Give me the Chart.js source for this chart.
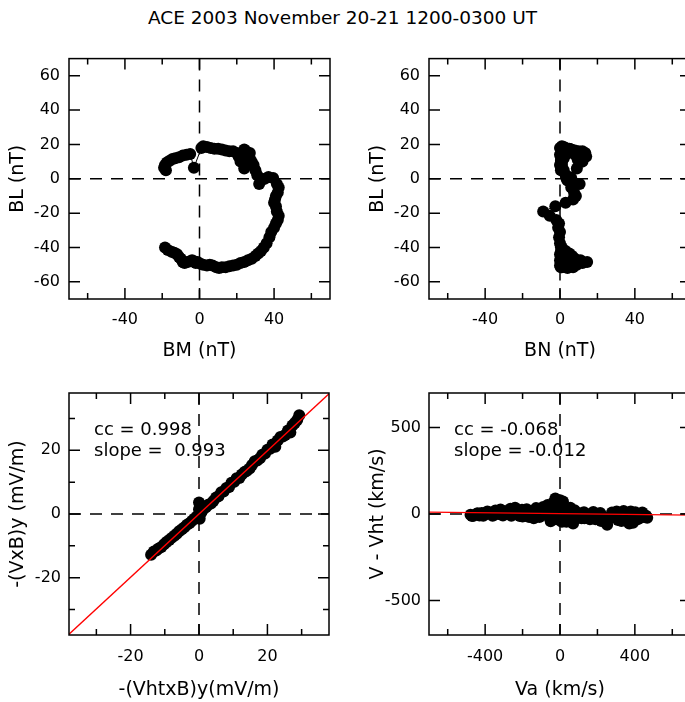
<!DOCTYPE html>
<html>
<head>
<meta charset="utf-8">
<script src="https://cdn.jsdelivr.net/npm/chart.js@4/dist/chart.umd.min.js"></script>
<style>
  html, body { margin: 0; padding: 0; background: #fff; overflow: hidden; width: 685px; height: 702px; }
  #title { position: absolute; left: 0; top: 7px; width: 685px; text-align: center;
           font: 18.5px "DejaVu Sans", sans-serif; color: #000; line-height: 22px; }
  canvas { position: absolute; }
</style>
</head>
<body>
<div id="title">ACE 2003 November 20-21 1200-0300 UT</div>
<canvas id="pBM" width="345" height="330" style="left:0;top:40px"></canvas>
<canvas id="pBN" width="345" height="330" style="left:355px;top:40px"></canvas>
<canvas id="pE"  width="345" height="327" style="left:0;top:375px"></canvas>
<canvas id="pV"  width="345" height="327" style="left:355px;top:375px"></canvas>
<script>
(function () {
  "use strict";

  /* ── Data: magnetic field in boundary coordinates (nT), time ordered ── */
  const BL = [-40, -41.5, -42.5, -43, -44, -45.5, -46.5, -48.5, -49, -48.5,
              -48, -47.5, -48, -49, -48.5, -49.5, -50, -50.5, -50, -50.5,
              -51.5, -52, -51.5, -51.5, -51, -50.5, -50, -49, -48.5, -47.5,
              -46.5, -45, -43.5, -42, -40, -37.5, -34, -31, -28.5, -26,
              -24, -21.5, -19, -16, -14, -12, -10, -8, -5, -3,
              0.5, 1, 0, -1, -3, 2, 5, 8, 10, 12,
              15, 14, 16, 17, 14, 11, 6, 10, 13, 15,
              16, 16, 16.5, 17, 17.5, 17.5, 18, 18.5, 19, 18,
              6.5, 14.5, 14, 13.5, 12.5, 12, 11.5, 10.5, 9.5, 8,
              6.5, 5];
  const BM = [-18.5, -17, -15, -13.5, -12, -11, -10, -9, -8, -6.5,
              -5, -4, -3, -2, -1, 0.5, 2, 4, 5.5, 7,
              9, 10.5, 12, 14, 16, 18, 20, 22, 24, 26,
              28, 30, 31.5, 33, 34.5, 36, 37.5, 38.5, 40, 41,
              42, 42.5, 41.5, 41, 40, 40.5, 41, 42, 42.5, 41.5,
              39.5, 37, 35, 33, 32, 31, 30, 29, 28, 27,
              27, 26, 25, 24, 23, 24, 24, 22, 21, 20,
              18, 16, 14, 12, 10, 8, 6, 4, 2, 1,
              -3, -5, -7, -9, -11, -13, -14.5, -16, -17.5, -18.5,
              -19, -18];
  const BN = [0.5, 1, 0.5, 1.5, 0, 1, 0.5, 1.5, 2, 3,
              1, 0, 1.5, 2.5, 4, 3, 1, 0, 2, 5,
              7, 4, 1, 0.5, 3, 6, 9, 12, 14.5, 11,
              8, 6.5, 5, 3, 1, 0, -0.5, 0, -1, -0.5,
              -2, -5.5, -9, -2.5, 3, 7, 8.5, 7.5, 6, 10.5,
              6, 5, 3.5, 4, 6.5, 3, 0.5, 1, 0.5, 1.5,
              2, 3, 5, 6, 8, 9.5, 9, 12, 14, 13.5,
              12, 10, 8, 6, 5, 4, 3, 2, 1, 0,
              0.5, 1, 0, 1.5, 0.5, 2, 1, 0.5, 1, 0,
              1, 2];

  /* ── Data: Walen / deHoffmann-Teller test ── */
  const EHT = [-14, -13.2, -12.5, -11.8, -11, -10.2, -9.5, -8.7, -8, -7.2,
               -6.5, -5.8, -5, -4.3, -3.5, -2.8, -2, -1.3, -0.6, 0,
               0, 0.2, 0.6, 1.2, 2, 2.7, 3.5, 4.2, 5, 5.7,
               6.5, 7.2, 8, 8.8, 9.5, 10.3, 11, 11.8, 12.5, 13.3,
               14, 14.8, 15.5, 16.3, 17, 17.8, 18.5, 19.3, 20, 20.8,
               21.5, 22.3, 23, 23.8, 24.5, 25.2, 26, 26.7, 27.3, 28,
               28.7, 29.3];
  const EC  = [-12.8, -11.8, -11.5, -10.8, -10.4, -9.5, -8.8, -8.2, -7.5, -6.8,
               -6.2, -5.4, -4.8, -4.2, -3.4, -2.9, -2.1, -1.4, -0.8, 1.5,
               3.6, -1.5, 0.3, 1.4, 2.1, 2.9, 3.3, 4.1, 5.2, 5.6,
               6.8, 7.1, 8.2, 8.5, 9.8, 10.1, 11.2, 11.3, 12.4, 13.2,
               13.6, 14.3, 15.4, 16.6, 16.8, 17.5, 18.6, 19.0, 20.2, 20.5,
               21.8, 21.1, 23.1, 24.2, 24.3, 24.8, 26.2, 25.6, 27.8, 28.6,
               29.5, 31.0];
  const VA  = [-478, -462, -445, -430, -418, -402, -388, -372, -360, -345,
               -333, -318, -305, -292, -280, -265, -252, -240, -228, -215,
               -203, -190, -178, -165, -152, -140, -128, -115, -103, -90,
               -78, -66, -55, -44, -34, -25, -16, -8, 0, 8,
               16, 25, 34, 44, 55, 66, 78, 90, 103, 115,
               128, 140, 152, 165, 178, 190, 203, 215, 228, 240,
               252, 265, 278, 290, 303, 316, 328, 340, 352, 365,
               378, 390, 402, 415, 428, 440, 452, 466,
               -470, -440, -410, -380, -350, -320, -290, -260, -230, -200,
               -170, -140, -110, -80, -50, -20, 10, 40, 70, 100,
               130, 160, 190, 220, 250, 280, 310, 340, 370, 400,
               430, 460];
  const VR  = [-4, -10, 2, -8, 6, -3, 14, 4, -10, 20,
               10, 26, -8, 16, 6, 30, 18, 36, 8, -12,
               24, 4, 28, -18, 16, 2, 34, -10, 20, 40,
               10, 52, -20, 28, 66, 90, 42, 15, 80, -40,
               72, 28, -45, -8, 36, 12, 22, -15, 4, -25,
               10, -10, -20, 0, 12, -30, -5, 6, -15, -35,
               -62, -25, 8, -12, 15, -8, -40, 18, -20, 5,
               14, -50, 10, -30, -8, 8, -18, -22,
               -12, 4, -10, 8, -5, -2, 8, -10, 2, -15,
               -10, -25, -18, -5, -42, -30, -45, 25, -55, -20,
               -25, -30, -10, -40, -38, -15, -35, -10, -55, -28,
               -22, -10];

  /* ── Fit results ── */
  const fitE = { cc: '0.998', slope: 0.993, icpt: 0.0, slopeTxt: ' 0.993' };
  const fitV = { cc: '-0.068', slope: -0.012, icpt: 2.0, slopeTxt: '-0.012' };

  /* ── Axis ticks ── */
  const bTicks = [-60, -40, -20, 0, 20, 40, 60];
  const bLabelsX = [-40, 0, 40];
  const eTicks = [-30, -20, -10, 0, 10, 20, 30];
  const eLabels = [-20, 0, 20];
  const vaTicks = [-600, -400, -200, 0, 200, 400, 600];
  const vaLabels = [-400, 0, 400];
  const vTicks = [-500, 0, 500];

  const FONT = '"DejaVu Sans", sans-serif';

  function pts(xs, ys) { return xs.map((v, i) => ({ x: v, y: ys[i] })); }

  /* ── Frame plugin: box, inward ticks, dashed zero lines, notes ── */
  const frame = {
    id: 'frame',
    beforeDatasetsDraw(chart) {
      const { ctx, chartArea: a, scales: { x, y } } = chart;
      ctx.save();
      ctx.strokeStyle = '#000'; ctx.lineWidth = 1.5; ctx.setLineDash([12, 9]);
      const x0 = x.getPixelForValue(0), y0 = y.getPixelForValue(0);
      ctx.beginPath();
      ctx.moveTo(x0, a.top); ctx.lineTo(x0, a.bottom);
      ctx.moveTo(a.left, y0); ctx.lineTo(a.right, y0);
      ctx.stroke();
      ctx.restore();
    },
    afterDatasetsDraw(chart, args, o) {
      const { ctx, chartArea: a, scales: { x, y } } = chart;
      ctx.save();
      ctx.strokeStyle = '#000'; ctx.lineWidth = 1.5;
      ctx.strokeRect(a.left, a.top, a.right - a.left, a.bottom - a.top);
      ctx.beginPath();
      o.xTicks.forEach(v => {
        const p = x.getPixelForValue(v), L = o.xMajor.includes(v) ? 11 : 6;
        ctx.moveTo(p, a.bottom); ctx.lineTo(p, a.bottom - L);
        ctx.moveTo(p, a.top); ctx.lineTo(p, a.top + L);
      });
      o.yTicks.forEach(v => {
        const p = y.getPixelForValue(v), L = o.yMajor.includes(v) ? 11 : 6;
        ctx.moveTo(a.left, p); ctx.lineTo(a.left + L, p);
        ctx.moveTo(a.right, p); ctx.lineTo(a.right - L, p);
      });
      ctx.stroke();
      if (o.notes) {
        ctx.fillStyle = '#000'; ctx.font = '18px ' + FONT; ctx.textBaseline = 'alphabetic';
        o.notes.forEach((t, i) => ctx.fillText(t, a.left + 25, a.top + 42 + i * 21));
      }
      ctx.restore();
    }
  };

  function axis(min, max, ticks, labels, title, fit, tpad, lpad) {
    return {
      type: 'linear', min: min, max: max,
      afterBuildTicks: s => { s.ticks = ticks.map(v => ({ value: v })); },
      afterFit: fit,
      grid: { display: false, drawTicks: false },
      border: { display: false },
      ticks: { padding: lpad, color: '#000', autoSkip: false, maxRotation: 0,
               font: { family: FONT, size: 16 },
               callback: v => labels.includes(v) ? String(v) : '' },
      title: { display: true, text: title, color: '#000',
               font: { family: FONT, size: 19 }, padding: tpad }
    };
  }

  function panel(id, datasets, sx, sy, pad, frameOpts) {
    return new Chart(document.getElementById(id), {
      type: 'scatter',
      data: { datasets: datasets },
      options: {
        responsive: false, animation: false, events: [],
        layout: { padding: pad },
        plugins: { legend: { display: false }, tooltip: { enabled: false }, frame: frameOpts },
        scales: { x: sx, y: sy }
      },
      plugins: [frame]
    });
  }

  const dots = (data, line) => ({
    data: data, order: 1, showLine: line, borderColor: '#000', borderWidth: 1,
    pointRadius: 6, pointBorderWidth: 0, pointBackgroundColor: '#000'
  });
  const fitLine = (f, lo, hi) => ({
    data: [{ x: lo, y: f.slope * lo + f.icpt }, { x: hi, y: f.slope * hi + f.icpt }],
    order: 0, showLine: true, borderColor: '#ff0000', borderWidth: 1.3, pointRadius: 0
  });

  /* ── Top left: BL vs BM ── */
  panel('pBM', [dots(pts(BM, BL), true)],
    axis(-70, 70, bTicks, bLabelsX, 'BM (nT)', s => { s.height = 70; }, { top: 0, bottom: 7 }, 11),
    axis(-70, 70, bTicks, bTicks, 'BL (nT)', s => { s.width = 69; }, { top: 7, bottom: 0 }, 9),
    { top: 15, right: 15, bottom: 1, left: 0 },
    { xTicks: bTicks, xMajor: bLabelsX, yTicks: bTicks, yMajor: bTicks });

  /* ── Top right: BL vs BN ── */
  panel('pBN', [dots(pts(BN, BL), true)],
    axis(-70, 70, bTicks, bLabelsX, 'BN (nT)', s => { s.height = 70; }, { top: 0, bottom: 7 }, 11),
    axis(-70, 70, bTicks, bTicks, 'BL (nT)', s => { s.width = 74; }, { top: 12, bottom: 0 }, 9),
    { top: 15, right: 9, bottom: 1, left: 0 },
    { xTicks: bTicks, xMajor: bLabelsX, yTicks: bTicks, yMajor: bTicks });

  /* ── Bottom left: -(VxB)y vs -(VhtxB)y ── */
  panel('pE', [fitLine(fitE, -38, 38), dots(pts(EHT, EC), false)],
    axis(-38, 38, eTicks, eLabels, '-(VhtxB)y(mV/m)', s => { s.height = 67; }, { top: 0, bottom: 1 }, 12),
    axis(-38, 38, eTicks, eLabels, '-(VxB)y (mV/m)', s => { s.width = 69; }, { top: 7, bottom: 0 }, 8),
    { top: 18, right: 16, bottom: 0, left: 0 },
    { xTicks: eTicks, xMajor: eLabels, yTicks: eTicks, yMajor: eLabels,
      notes: ['cc = ' + fitE.cc, 'slope = ' + fitE.slopeTxt] });

  /* ── Bottom right: V - Vht vs Va ── */
  panel('pV', [fitLine(fitV, -700, 700), dots(pts(VA, VR), false)],
    axis(-700, 700, vaTicks, vaLabels, 'Va (km/s)', s => { s.height = 67; }, { top: 0, bottom: 1 }, 12),
    axis(-700, 700, vTicks, vTicks, 'V - Vht (km/s)', s => { s.width = 74; }, { top: 12, bottom: 0 }, 8),
    { top: 18, right: 9, bottom: 0, left: 0 },
    { xTicks: vaTicks, xMajor: vaLabels, yTicks: vTicks, yMajor: vTicks,
      notes: ['cc = ' + fitV.cc, 'slope = ' + fitV.slopeTxt] });

})();
</script>
</body>
</html>
